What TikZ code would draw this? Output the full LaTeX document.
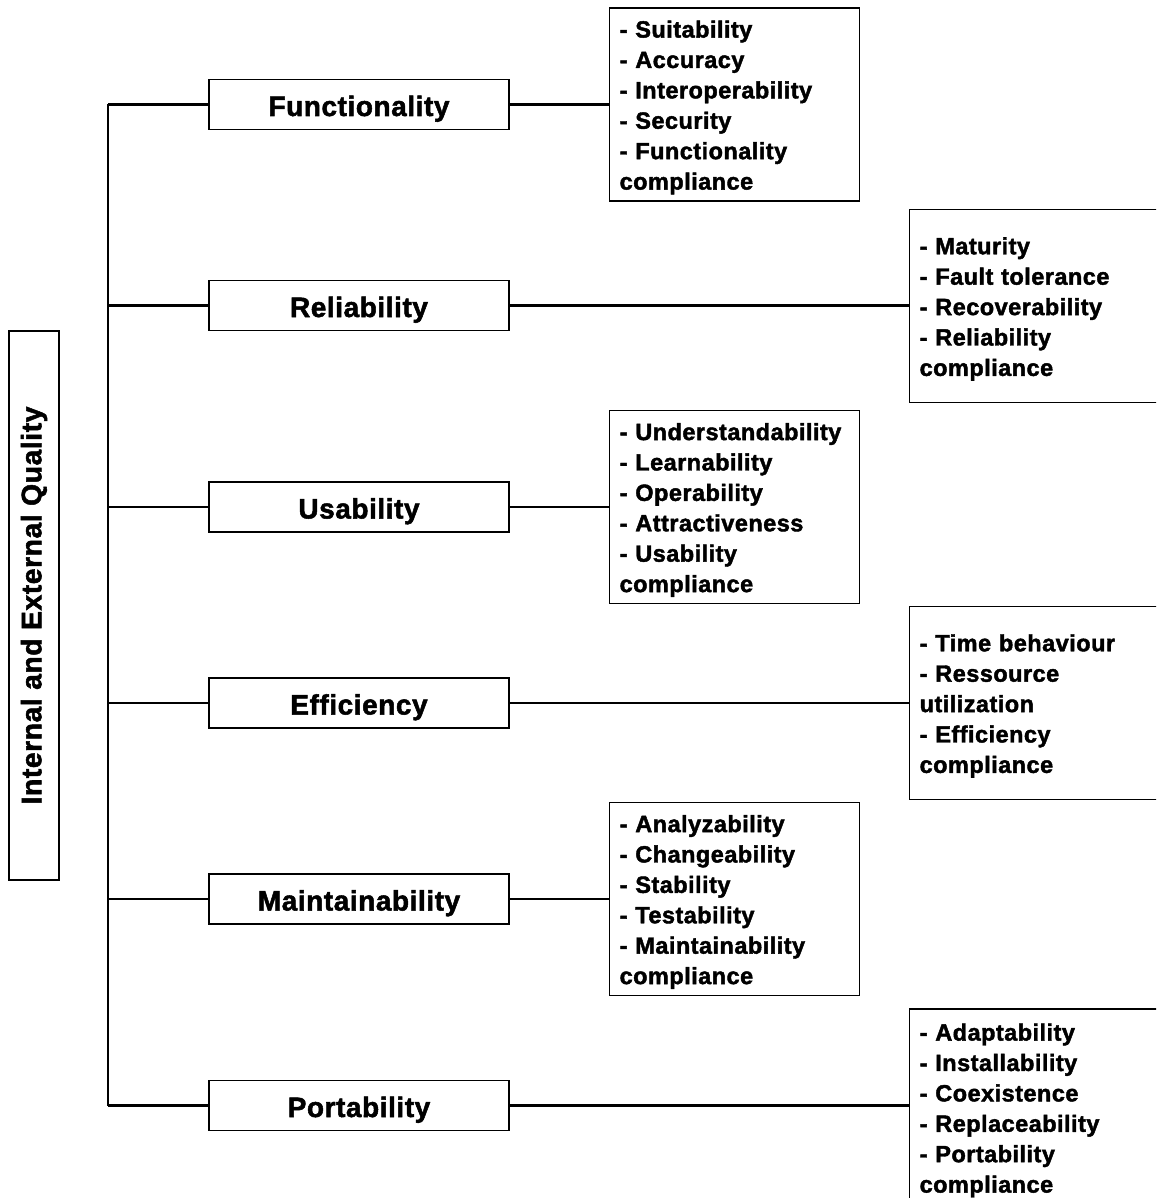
\documentclass[tikz,border=0pt]{standalone}
\usepackage{fontspec}
\setmainfont{Liberation Sans}[BoldFeatures={FakeBold=1.8,LetterSpace=2}]
\begin{document}
\begin{tikzpicture}[x=1pt,y=-1pt,
  conn/.style={line width=2.6pt},
  catbox/.style={draw, line width=1.3pt, fill=white, minimum width=300pt, minimum height=50pt,
    inner sep=0pt, text height=23pt, text depth=0pt, font=\bfseries\fontsize{28}{34}\selectfont},
  listframe/.style={draw, line width=1.3pt, fill=white, inner sep=0pt,
    minimum width=250pt, minimum height=193pt},
  wideframe/.style={listframe, minimum width=260pt},
  listtext/.style={align=left, inner sep=0pt, text width=230pt, yshift=-3pt,
    font=\bfseries\fontsize{23.5}{30.4}\selectfont},
  widetext/.style={listtext, text width=240pt},
  rootbox/.style={draw, line width=1.3pt, rotate=90, minimum width=549pt, minimum height=50pt,
    inner sep=0pt, font=\bfseries\fontsize{28.3}{34}\selectfont}]
\clip (0,0) rectangle (1156,1198);
\fill[white] (0,0) rectangle (1156,1198);

% root label on the left
\node[rootbox] (root) at (34,605.5) {Internal and External Quality};

% characteristics
\node[catbox] (func) at (359,104.5) {Functionality};
\node[catbox] (rel)  at (359,305.5) {Reliability};
\node[catbox] (usa)  at (359,507)   {Usability};
\node[catbox] (eff)  at (359,703)   {Efficiency};
\node[catbox] (mai)  at (359,899)   {Maintainability};
\node[catbox] (por)  at (359,1105.5){Portability};

% sub-characteristic frames
\node[listframe, anchor=west] (funcL) at (609,104.5) {};
\node[wideframe, anchor=west] (relL) at (909,306) {};
\node[listframe, anchor=west] (usaL) at (609,507) {};
\node[wideframe, anchor=west] (effL) at (909,703) {};
\node[listframe, anchor=west] (maiL) at (609,899) {};
\node[wideframe, anchor=west, minimum height=197pt] (porL) at (909,1107.5) {};

% sub-characteristic lists
\node[listtext] (funcT) at (funcL.center) {- Suitability\\- Accuracy\\- Interoperability\\- Security\\- Functionality\\compliance};
\node[widetext] (relT) at (relL.center) {- Maturity\\- Fault tolerance\\- Recoverability\\- Reliability\\compliance};
\node[listtext] (usaT) at (usaL.center) {- Understandability\\- Learnability\\- Operability\\- Attractiveness\\- Usability\\compliance};
\node[widetext] (effT) at (effL.center) {- Time behaviour\\- Ressource\\utilization\\- Efficiency\\compliance};
\node[listtext] (maiT) at (maiL.center) {- Analyzability\\- Changeability\\- Stability\\- Testability\\- Maintainability\\compliance};
\node[widetext] (porT) at (porL.center) {- Adaptability\\- Installability\\- Coexistence\\- Replaceability\\- Portability\\compliance};

% trunk
\coordinate (top) at (108,104.5);
\coordinate (bot) at (108,1105.5);
\draw[conn] (top) -- (bot);

% branches to the characteristics
\foreach \c in {func,rel,usa,eff,mai,por}
  \draw[conn] (\c.west -| top) -- (\c.west);

% links to the sub-characteristics
\draw[conn] (func.east) -- (func.east -| funcL.west);
\draw[conn] (rel.east)  -- (rel.east -| relL.west);
\draw[conn] (usa.east)  -- (usa.east -| usaL.west);
\draw[conn] (eff.east)  -- (eff.east -| effL.west);
\draw[conn] (mai.east)  -- (mai.east -| maiL.west);
\draw[conn] (por.east)  -- (por.east -| porL.west);
\end{tikzpicture}
\end{document}
